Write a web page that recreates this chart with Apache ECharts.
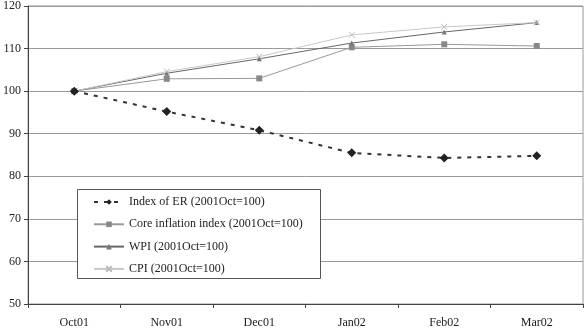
<!DOCTYPE html>
<html>
<head>
<meta charset="utf-8">
<script src="https://cdn.jsdelivr.net/npm/echarts@6/dist/echarts.min.js"></script>
<style>
  html, body { margin: 0; padding: 0; background: #fff; }
  #chart { width: 586px; height: 330px; }
</style>
</head>
<body>
<div id="chart"></div>
<script>
const months = ['Oct01', 'Nov01', 'Dec01', 'Jan02', 'Feb02', 'Mar02'];
const erIndex = [100, 95.2, 90.8, 85.5, 84.3, 84.8];
const coreIndex = [100, 102.9, 103.0, 110.3, 111.0, 110.6];
const wpiIndex = [100, 104.2, 107.6, 111.3, 113.9, 116.1];
const cpiIndex = [100, 104.6, 108.1, 113.2, 115.1, 116.1];

const serif = '"Liberation Serif", "DejaVu Serif", serif';
const crossPath = 'path://M0,0L10,10M10,0L0,10';

const chart = echarts.init(document.getElementById('chart'));

chart.setOption({
    animation: false,
    textStyle: { fontFamily: serif },
    grid: {
        left: 26, right: 3, top: 4, bottom: 26,
        show: true, borderColor: '#999', borderWidth: 1
    },
    graphic: [{
        type: 'rect',
        shape: { x: 77.5, y: 189.5, width: 243, height: 89 },
        style: { fill: '#fff', stroke: '#555', lineWidth: 1 },
        z: 90
    }],
    legend: {
        orient: 'vertical',
        left: 93, top: 195,
        itemWidth: 30, itemHeight: 7, itemGap: 8.3,
        padding: 0,
        z: 100,
        textStyle: { fontFamily: serif, fontSize: 12, lineHeight: 14, color: '#222' },
        data: [
            'Index of ER (2001Oct=100)',
            'Core inflation index (2001Oct=100)',
            'WPI (2001Oct=100)',
            'CPI (2001Oct=100)'
        ]
    },
    xAxis: {
        type: 'category',
        data: months,
        boundaryGap: true,
        axisLine: { lineStyle: { color: '#444' } },
        axisTick: { show: true, length: 4, lineStyle: { color: '#444' } },
        axisLabel: { fontFamily: serif, fontSize: 12, color: '#222', margin: 13 }
    },
    yAxis: {
        type: 'value',
        min: 50, max: 120, interval: 10,
        axisLine: { show: true, lineStyle: { color: '#444' } },
        axisTick: { show: true, length: 4, lineStyle: { color: '#444' } },
        axisLabel: { fontFamily: serif, fontSize: 12, color: '#222', margin: 7 },
        splitLine: { lineStyle: { color: '#999', width: 1 } }
    },
    series: [
        {
            name: 'Index of ER (2001Oct=100)',
            type: 'line',
            data: erIndex,
            symbol: 'diamond', symbolSize: 9,
            itemStyle: { color: '#222' },
            lineStyle: { color: '#333', width: 2, type: [4, 6] },
            z: 5
        },
        {
            name: 'Core inflation index (2001Oct=100)',
            type: 'line',
            data: coreIndex,
            symbol: 'rect', symbolSize: 6,
            itemStyle: { color: '#888' },
            lineStyle: { color: '#999', width: 1 }
        },
        {
            name: 'WPI (2001Oct=100)',
            type: 'line',
            data: wpiIndex,
            symbol: 'triangle', symbolSize: 5,
            itemStyle: { color: '#777' },
            lineStyle: { color: '#666', width: 1 }
        },
        {
            name: 'CPI (2001Oct=100)',
            type: 'line',
            data: cpiIndex,
            symbol: crossPath, symbolSize: 6,
            itemStyle: { color: 'none', borderColor: '#bbb', borderWidth: 1 },
            lineStyle: { color: '#c8c8c8', width: 1 }
        }
    ]
});
</script>
</body>
</html>
